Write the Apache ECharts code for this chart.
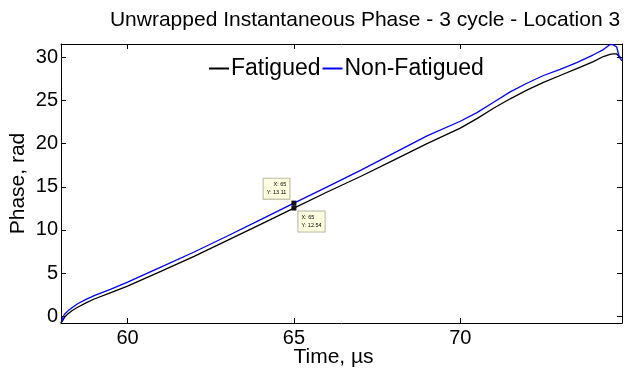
<!DOCTYPE html>
<html><head><meta charset="utf-8">
<script src="https://cdn.jsdelivr.net/npm/echarts@6/dist/echarts.min.js"></script>
<style>html,body{margin:0;padding:0;background:#fff}#c{width:624px;height:371px}</style>
</head><body><div id="c"></div>
<script>
const timeUs = [58.0, 58.05, 58.1, 58.2, 58.35, 58.5, 58.75, 59.0, 59.5, 60.0, 61, 62, 63, 64, 65, 66, 67, 68, 69, 70, 70.5, 71, 71.5, 72, 72.5, 73, 73.5, 74, 74.3, 74.5, 74.6, 74.7, 74.78, 74.86];
const nonFatigued = [-0.78, -0.2, 0.2, 0.6, 1.05, 1.45, 1.95, 2.4, 3.15, 3.95, 5.7, 7.45, 9.3, 11.2, 13.11, 15.0, 16.9, 18.9, 20.9, 22.6, 23.6, 24.8, 26.0, 27.0, 27.9, 28.6, 29.4, 30.3, 30.9, 31.5, 31.45, 31.2, 30.0, 29.6];
const fatigued = [-0.78, -0.5, -0.15, 0.25, 0.7, 1.05, 1.55, 2.0, 2.75, 3.5, 5.2, 6.95, 8.8, 10.65, 12.54, 14.4, 16.2, 18.1, 20.0, 21.8, 22.9, 24.1, 25.2, 26.2, 27.1, 27.9, 28.7, 29.5, 30.1, 30.35, 30.4, 30.4, 30.1, 29.9];
const xTicks = [60, 65, 70];
const yTicks = [0, 5, 10, 15, 20, 25, 30];
const tipX = 65;
const tipFatigued = 12.54;
const tipNonFatigued = 13.11;

const FONT = 'Liberation Sans, Arial, Helvetica, sans-serif';
const pairs = (ys) => timeUs.map((t, i) => [t, ys[i]]);
const tipLabel = (x, y) => 'X: ' + x + '\nY: ' + y.toFixed(2);
const tipStyle = {
  show: true, fontSize: 5.5, lineHeight: 8, color: '#000', fontFamily: FONT,
  backgroundColor: '#ffffe1', borderColor: '#b4b4a0', borderWidth: 1, padding: [2, 3]
};

const chart = echarts.init(document.getElementById('c'), null, {renderer: 'canvas'});
const xBase = {
  type: 'value', min: 58, max: 74.86, splitLine: {show: false},
  axisLine: {show: true, onZero: false, lineStyle: {color: '#000', width: 1}},
  axisTick: {show: true, inside: true, length: 5, customValues: xTicks, lineStyle: {color: '#000'}}
};
const yBase = {
  type: 'value', min: -0.78, max: 31.55, splitLine: {show: false},
  axisLine: {show: true, onZero: false, lineStyle: {color: '#000', width: 1}},
  axisTick: {show: true, inside: true, length: 5, customValues: yTicks, lineStyle: {color: '#000'}}
};
chart.setOption({
  animation: false,
  backgroundColor: '#fff',
  title: {
    text: 'Unwrapped Instantaneous Phase - 3 cycle - Location 3',
    left: 360, textAlign: 'center', top: 5,
    textStyle: {fontFamily: FONT, fontSize: 21, fontWeight: 'normal', color: '#000'}
  },
  legend: {
    data: ['Fatigued', 'Non-Fatigued'],
    left: 204, top: 52, icon: 'rect', itemWidth: 20, itemHeight: 2, itemGap: 2,
    textStyle: {fontFamily: FONT, fontSize: 23, color: '#000', padding: [0, 0, 0, -3]}
  },
  grid: {left: 61, right: 2, top: 44, bottom: 48, containLabel: false, outerBoundsMode: 'none'},
  xAxis: [
    Object.assign({}, xBase, {
      position: 'bottom', name: 'Time, µs', nameLocation: 'middle', nameGap: 24, nameMoveOverlap: false,
      nameTextStyle: {fontFamily: FONT, fontSize: 21, color: '#000', padding: [0, 16, 0, 0]},
      axisLabel: {show: true, customValues: xTicks, fontFamily: FONT, fontSize: 20, color: '#000', margin: 5}
    }),
    Object.assign({}, xBase, {position: 'top', axisLabel: {show: false}})
  ],
  yAxis: [
    Object.assign({}, yBase, {
      position: 'left', name: 'Phase, rad', nameLocation: 'middle', nameGap: 32, nameMoveOverlap: false,
      nameTextStyle: {fontFamily: FONT, fontSize: 21, color: '#000'},
      axisLabel: {show: true, customValues: yTicks, fontFamily: FONT, fontSize: 20, color: '#000', margin: 3}
    }),
    Object.assign({}, yBase, {position: 'right', axisLabel: {show: false}})
  ],
  series: [
    {
      name: 'Fatigued', type: 'line', data: pairs(fatigued), showSymbol: false,
      lineStyle: {color: '#000', width: 1.3}, itemStyle: {color: '#000'},
      markPoint: {
        symbol: 'rect', symbolSize: 5, itemStyle: {color: '#111'},
        data: [{coord: [tipX, tipFatigued], value: tipFatigued}],
        label: Object.assign({}, tipStyle, {
          position: [7, 6], align: 'left', verticalAlign: 'top',
          formatter: () => tipLabel(tipX, tipFatigued)
        })
      }
    },
    {
      name: 'Non-Fatigued', type: 'line', data: pairs(nonFatigued), showSymbol: false,
      lineStyle: {color: '#0000ff', width: 1.3}, itemStyle: {color: '#0000ff'},
      markPoint: {
        symbol: 'rect', symbolSize: 5, itemStyle: {color: '#111'},
        data: [{coord: [tipX, tipNonFatigued], value: tipNonFatigued}],
        label: Object.assign({}, tipStyle, {
          position: [-2, -2], align: 'right', verticalAlign: 'bottom',
          formatter: () => tipLabel(tipX, tipNonFatigued)
        })
      }
    }
  ]
});
</script>
</body></html>
